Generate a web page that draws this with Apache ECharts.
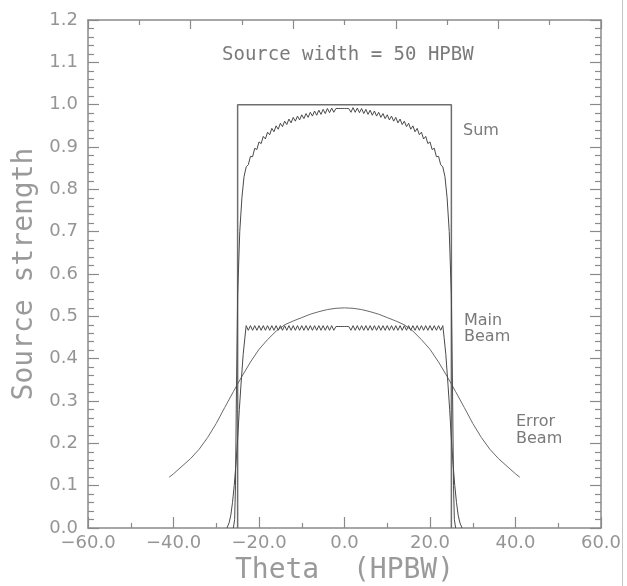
<!DOCTYPE html>
<html>
<head>
<meta charset="utf-8">
<script src="https://cdn.jsdelivr.net/npm/echarts@6/dist/echarts.min.js"></script>
<style>
  html, body { margin: 0; padding: 0; background: #fff; }
  #chart { width: 627px; height: 586px; }
</style>
</head>
<body>
<div id="chart"></div>
<script>
// Uniform source of width 50 HPBW
const rectTheta = [-25, -25, 25, 25];
const rectValue = [0, 1, 1, 0];

// Sum of main and error beam response
const sumTheta = [
  -26, -25.7, -25.5, -25.3, -25, -24.5, -24, -23.5,
  -23, -22.5, -22, -21.5, -21, -20.5, -20, -19.5, -19, -18.5, -18, -17.5,
  -17, -16.5, -16, -15.5, -15, -14.5, -14, -13.5, -13, -12.5, -12, -11.5,
  -11, -10.5, -10, -9.5, -9, -8.5, -8, -7.5, -7, -6.5, -6, -5.5,
  -5, -4.5, -4, -3.5, -3, -2.5, -2, -1.5, -1, -0.5, 0, 0.5,
  1, 1.5, 2, 2.5, 3, 3.5, 4, 4.5, 5, 5.5, 6, 6.5,
  7, 7.5, 8, 8.5, 9, 9.5, 10, 10.5, 11, 11.5, 12, 12.5,
  13, 13.5, 14, 14.5, 15, 15.5, 16, 16.5, 17, 17.5, 18, 18.5,
  19, 19.5, 20, 20.5, 21, 21.5, 22, 22.5, 23,
  23.5, 24, 24.5, 25, 25.3, 25.5, 25.7, 26
];
const sumValue = [
  0, 0.02, 0.10, 0.30, 0.55, 0.70, 0.78, 0.83,
  0.853, 0.858, 0.878, 0.877, 0.897, 0.894, 0.912, 0.908, 0.925, 0.919, 0.935, 0.929,
  0.944, 0.936, 0.950, 0.942, 0.956, 0.948, 0.961, 0.953, 0.966, 0.957, 0.970, 0.961,
  0.973, 0.964, 0.976, 0.967, 0.979, 0.970, 0.982, 0.973, 0.985, 0.975, 0.987, 0.977,
  0.989, 0.979, 0.991, 0.981, 0.992, 0.982, 0.991, 0.991, 0.991, 0.991, 0.991, 0.991,
  0.991, 0.982, 0.993, 0.982, 0.992, 0.981, 0.991, 0.979, 0.989, 0.977, 0.987, 0.975,
  0.985, 0.973, 0.982, 0.970, 0.979, 0.967, 0.976, 0.964, 0.973, 0.961, 0.970, 0.957,
  0.966, 0.953, 0.961, 0.948, 0.956, 0.942, 0.950, 0.936, 0.944, 0.929, 0.935, 0.919,
  0.925, 0.908, 0.912, 0.894, 0.897, 0.877, 0.878, 0.858, 0.853,
  0.83, 0.78, 0.70, 0.55, 0.30, 0.10, 0.02, 0
];

// Main beam response
const mainTheta = [
  -27.5, -27, -26.6, -26.2, -25.8, -25.4, -25, -24.6, -24.2, -23.7, -23.3,
  -23, -22.5, -22, -21.5, -21, -20.5, -20, -19.5, -19, -18.5, -18, -17.5,
  -17, -16.5, -16, -15.5, -15, -14.5, -14, -13.5, -13, -12.5, -12, -11.5,
  -11, -10.5, -10, -9.5, -9, -8.5, -8, -7.5, -7, -6.5, -6, -5.5,
  -5, -4.5, -4, -3.5, -3, -2.5, -2, -1.5, -1, -0.5, 0, 0.5,
  1, 1.5, 2, 2.5, 3, 3.5, 4, 4.5, 5, 5.5, 6, 6.5,
  7, 7.5, 8, 8.5, 9, 9.5, 10, 10.5, 11, 11.5, 12, 12.5,
  13, 13.5, 14, 14.5, 15, 15.5, 16, 16.5, 17, 17.5, 18, 18.5,
  19, 19.5, 20, 20.5, 21, 21.5, 22, 22.5, 23,
  23.3, 23.7, 24.2, 24.6, 25, 25.4, 25.8, 26.2, 26.6, 27, 27.5
];
const mainValue = [
  0, 0.012, 0.03, 0.06, 0.10, 0.15, 0.21, 0.28, 0.34, 0.41, 0.45,
  0.478, 0.467, 0.478, 0.467, 0.478, 0.467, 0.478, 0.467, 0.478, 0.467, 0.478, 0.467,
  0.478, 0.467, 0.478, 0.467, 0.478, 0.467, 0.478, 0.467, 0.478, 0.467, 0.478, 0.467,
  0.478, 0.467, 0.478, 0.467, 0.478, 0.467, 0.478, 0.467, 0.478, 0.467, 0.478, 0.467,
  0.478, 0.467, 0.478, 0.467, 0.478, 0.467, 0.476, 0.476, 0.476, 0.476, 0.476, 0.476,
  0.476, 0.467, 0.478, 0.467, 0.478, 0.467, 0.478, 0.467, 0.478, 0.467, 0.478, 0.467,
  0.478, 0.467, 0.478, 0.467, 0.478, 0.467, 0.478, 0.467, 0.478, 0.467, 0.478, 0.467,
  0.478, 0.467, 0.478, 0.467, 0.478, 0.467, 0.478, 0.467, 0.478, 0.467, 0.478, 0.467,
  0.478, 0.467, 0.478, 0.467, 0.478, 0.467, 0.478, 0.467, 0.478,
  0.45, 0.41, 0.34, 0.28, 0.21, 0.15, 0.10, 0.06, 0.03, 0.012, 0
];

// Error beam response
const errorTheta = [
  -41, -40, -38, -36, -34, -32, -30, -28, -26, -24, -22, -20, -18, -16, -14, -12,
  -10, -8, -6, -4, -2, 0, 2, 4, 6, 8, 10,
  12, 14, 16, 18, 20, 22, 24, 26, 28, 30, 32, 34, 36, 38, 40, 41
];
const errorValue = [
  0.120, 0.128, 0.146, 0.164, 0.186, 0.214, 0.247, 0.285, 0.322, 0.358, 0.392, 0.422, 0.445, 0.465, 0.480, 0.489,
  0.497, 0.505, 0.511, 0.516, 0.519, 0.520, 0.519, 0.516, 0.511, 0.505, 0.497,
  0.489, 0.480, 0.465, 0.445, 0.422, 0.392, 0.358, 0.322, 0.285, 0.247, 0.214, 0.186, 0.164, 0.146, 0.128, 0.120
];

// Axis ranges and tick steps
const xRange = [-60, 60];
const xStep = 20;
const yRange = [0, 1.2];
const yStep = 0.1;

const pairs = (xs, ys) => xs.map((x, i) => [x, ys[i]]);
const fmt = v => (v < 0 ? '\u2212' : '') + Math.abs(v).toFixed(1);

const FONT = 'DejaVu Sans';
const MONO = 'DejaVu Sans Mono';
const AXIS_COLOR = '#8a8a8a';
const LABEL_COLOR = '#959595';
const CURVE_COLOR = '#4a4a4a';

const chart = echarts.init(document.getElementById('chart'), null, { renderer: 'canvas' });

const lineSeries = (name, data, color, width) => ({
  name,
  type: 'line',
  xAxisIndex: 0,
  yAxisIndex: 0,
  data,
  showSymbol: false,
  symbol: 'none',
  smooth: false,
  animation: false,
  lineStyle: { color, width },
  z: 3
});

const tickStyle = { color: AXIS_COLOR, width: 1.2 };
const lineAxis = { show: true, onZero: false, lineStyle: { color: AXIS_COLOR, width: 1.5 } };

chart.setOption({
  animation: false,
  backgroundColor: '#fff',
  grid: {
    left: 88, right: 26, top: 20, bottom: 58,
    containLabel: false,
    outerBoundsMode: 'none'
  },
  xAxis: [
    {
      type: 'value',
      min: xRange[0], max: xRange[1], interval: xStep,
      position: 'bottom',
      name: 'Theta  (HPBW)',
      nameLocation: 'middle',
      nameGap: 28,
      nameTextStyle: { fontFamily: MONO, fontSize: 28, color: '#9a9a9a' },
      axisLine: lineAxis,
      axisTick: { show: true, inside: true, length: 11, lineStyle: tickStyle },
      minorTick: { show: true, splitNumber: 2, length: 5, lineStyle: tickStyle },
      splitLine: { show: false },
      axisLabel: {
        margin: 6,
        fontFamily: FONT, fontSize: 18, color: LABEL_COLOR,
        formatter: fmt
      }
    },
    {
      type: 'value',
      min: 0, max: 10, interval: 2,
      position: 'top',
      axisLine: lineAxis,
      axisTick: { show: true, inside: true, length: 9, lineStyle: tickStyle },
      minorTick: { show: true, splitNumber: 2, length: 5, lineStyle: tickStyle },
      splitLine: { show: false },
      axisLabel: { show: false }
    }
  ],
  yAxis: [
    {
      type: 'value',
      min: yRange[0], max: yRange[1], interval: yStep,
      position: 'left',
      name: 'Source strength',
      nameLocation: 'middle',
      nameGap: 48,
      nameRotate: 90,
      nameTextStyle: { fontFamily: MONO, fontSize: 28, color: '#9a9a9a' },
      axisLine: lineAxis,
      axisTick: { show: true, inside: true, length: 11, lineStyle: tickStyle },
      minorTick: { show: true, splitNumber: 5, length: 6, lineStyle: tickStyle },
      splitLine: { show: false },
      axisLabel: {
        margin: 10,
        fontFamily: FONT, fontSize: 18, color: LABEL_COLOR,
        formatter: fmt
      }
    },
    {
      type: 'value',
      min: yRange[0], max: yRange[1], interval: yStep,
      position: 'right',
      axisLine: lineAxis,
      axisTick: { show: true, inside: true, length: 11, lineStyle: tickStyle },
      minorTick: { show: true, splitNumber: 5, length: 6, lineStyle: tickStyle },
      splitLine: { show: false },
      axisLabel: { show: false }
    }
  ],
  series: [
    lineSeries('Source', pairs(rectTheta, rectValue), '#6e6e6e', 1.5),
    lineSeries('Error Beam', pairs(errorTheta, errorValue), '#6a6a6a', 1),
    lineSeries('Main Beam', pairs(mainTheta, mainValue), CURVE_COLOR, 1),
    lineSeries('Sum', pairs(sumTheta, sumValue), CURVE_COLOR, 1)
  ],
  graphic: [
    {
      type: 'line',
      shape: { x1: 622.5, y1: 0, x2: 622.5, y2: 586 },
      style: { stroke: '#c4c4c4', lineWidth: 1 },
      silent: true
    },
    {
      type: 'text', left: 222, top: 46,
      style: { text: 'Source width = 50 HPBW', font: '19px "DejaVu Sans Mono"', fill: '#7a7a7a' }
    },
    {
      type: 'text', left: 463, top: 123,
      style: { text: 'Sum', font: '16px "DejaVu Sans"', fill: '#7a7a7a' }
    },
    {
      type: 'text', left: 464, top: 313,
      style: { text: 'Main\nBeam', font: '16px "DejaVu Sans"', fill: '#7a7a7a', lineHeight: 16 }
    },
    {
      type: 'text', left: 516, top: 413,
      style: { text: 'Error\nBeam', font: '16px "DejaVu Sans"', fill: '#7a7a7a', lineHeight: 17 }
    }
  ]
});
</script>
</body>
</html>
